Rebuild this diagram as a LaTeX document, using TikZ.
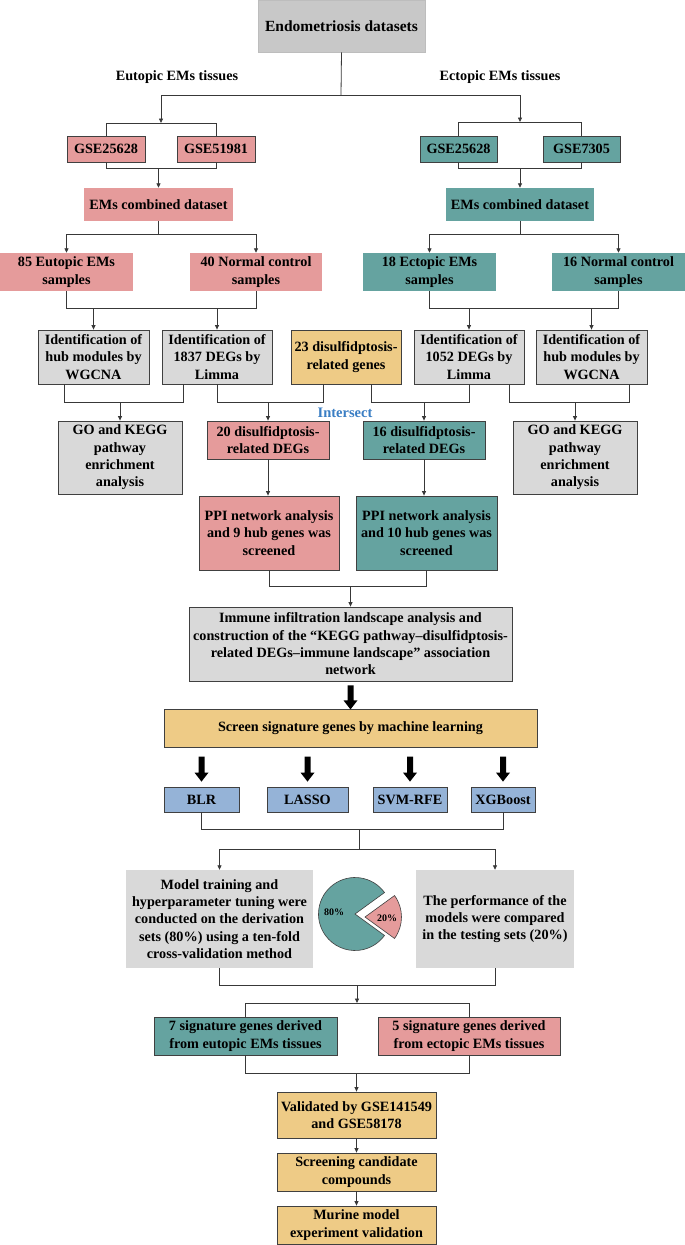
\documentclass[tikz,border=0pt]{standalone}
\usepackage{fontspec}
\setmainfont{Liberation Serif}
\usetikzlibrary{arrows.meta,calc}
\definecolor{pk}{HTML}{E59B9B}
\definecolor{tl}{HTML}{65A3A0}
\definecolor{yl}{HTML}{EECB86}
\definecolor{bl}{HTML}{95B3D7}
\definecolor{gr}{HTML}{D9D9D9}
\definecolor{gtop}{HTML}{C8C8C8}
\definecolor{gtopb}{HTML}{BDBDBD}
\definecolor{edge}{HTML}{404040}
\definecolor{lnc}{HTML}{383838}
\definecolor{isc}{HTML}{3A7EC4}
\newcommand\bx[7]{%
  \pgfmathsetmacro\bxw{#4-#2}\pgfmathsetmacro\bxh{#5-#3}%
  \node[#6, minimum width=\bxw pt, minimum height=\bxh pt] (#1) at ({(#2+#4)/2},{(#3+#5)/2}) {#7};}
\newcommand\tarrow[3]{\fill[black] (#1) ++(0,#2) ++(-3,0) -- ++(6,0) -- ++(0,#3-9) -- ++(4,0) -- ++(-7,9) -- ++(-7,-9) -- ++(4,0) -- cycle;}
\begin{document}
\begin{tikzpicture}[x=1pt,y=-1pt,
  base/.style={inner sep=0pt, align=center, font=\fontsize{14.2}{17.3}\selectfont\bfseries, text=black},
  dk/.style={base, draw=edge, line width=0.8pt},
  lt/.style={base, draw=none},
  conn/.style={draw=lnc, line width=0.8pt},
  arr/.style={conn, -{Triangle[length=4.5pt,width=4pt]}}]
\useasboundingbox (0,0) rectangle (685,1245);
\fill[white] (0,0) rectangle (685,1245);

% top
\bx{top}{258}{0.5}{425}{52}{base, fill=gtop, draw=gtopb, line width=0.6pt, font=\fontsize{15.5}{18}\selectfont\bfseries}{Endometriosis datasets}
\node[base] (eul) at (177,77) {Eutopic EMs tissues};
\node[base] (ecl) at (500,77) {Ectopic EMs tissues};

% datasets
\bx{ga}{67}{136}{145}{162}{dk, fill=pk}{GSE25628}
\bx{gb}{177}{136}{255}{162}{dk, fill=pk}{GSE51981}
\bx{gc}{420}{136}{497}{162}{dk, fill=tl}{GSE25628}
\bx{gd}{543}{136}{620}{162}{dk, fill=tl}{GSE7305}
\bx{ca}{84}{188}{233}{221}{lt, fill=pk}{EMs combined dataset}
\bx{cb}{446}{188}{594}{221}{lt, fill=tl}{EMs combined dataset}

% samples
\bx{sa}{0}{253}{133}{291}{lt, fill=pk}{85 Eutopic EMs\\samples}
\bx{sb}{190}{253}{322}{291}{lt, fill=pk}{40 Normal control\\samples}
\bx{sc}{363}{253}{496}{291}{lt, fill=tl}{18 Ectopic EMs\\samples}
\bx{sd}{552}{253}{685}{291}{lt, fill=tl}{16 Normal control\\samples}

% identification row
\bx{wa}{38}{330}{149}{384}{dk, fill=gr}{Identification of\\hub modules by\\WGCNA}
\bx{da}{162}{330}{272}{384}{dk, fill=gr}{Identification of\\1837 DEGs by\\Limma}
\bx{dg}{291}{330}{401}{384}{dk, fill=yl}{23 disulfidptosis-\\related genes}
\bx{db}{414}{330}{524}{384}{dk, fill=gr}{Identification of\\1052 DEGs by\\Limma}
\bx{wb}{536}{330}{647}{384}{dk, fill=gr}{Identification of\\hub modules by\\WGCNA}

% row 4
\bx{goa}{58}{421}{182}{494}{dk, fill=gr}{GO and KEGG\\pathway\\enrichment\\analysis}
\bx{ia}{207}{421}{329}{459}{dk, fill=pk}{20 disulfidptosis-\\related DEGs}
\bx{ib}{363}{421}{485}{459}{dk, fill=tl}{16 disulfidptosis-\\related DEGs}
\bx{gob}{513}{421}{637}{494}{dk, fill=gr}{GO and KEGG\\pathway\\enrichment\\analysis}
\node[base, text=isc, font=\fontsize{14.5}{17}\selectfont\bfseries] (isect) at (345,413) {Intersect};

% PPI
\bx{pa}{199}{496}{339}{570}{dk, fill=pk}{PPI network analysis\\and 9 hub genes was\\screened}
\bx{pb}{356}{496}{497}{570}{dk, fill=tl}{PPI network analysis\\and 10 hub genes was\\screened}

% immune
\bx{imm}{189}{607}{512}{681}{dk, fill=gr}{Immune infiltration landscape analysis and\\construction of the “KEGG pathway–disulfidptosis-\\related DEGs–immune landscape” association\\network}
\bx{scr}{164}{709}{537}{747}{dk, fill=yl}{Screen signature genes by machine learning}

% methods
\bx{blr}{164}{787}{239}{812}{dk, fill=bl}{BLR}
\bx{las}{267}{787}{348}{812}{dk, fill=bl}{LASSO}
\bx{svm}{373}{787}{447}{812}{dk, fill=bl}{SVM-RFE}
\bx{xgb}{471}{787}{535}{812}{dk, fill=bl}{XGBoost}

% training
\bx{mt}{126}{870}{313}{968}{lt, fill=gr}{Model training and\\hyperparameter tuning were\\conducted on the derivation\\sets (80\%) using a ten-fold\\cross-validation method}
\bx{pf}{416}{870}{574}{968}{lt, fill=gr}{The performance of the\\models were compared\\in the testing sets (20\%)}

% pie
\fill[tl, draw=edge, line width=0.6pt] (355,914) -- ++(-36:36.5) arc[start angle=-36, end angle=-324, radius=36.5] -- cycle;
\fill[pk, draw=edge, line width=0.6pt] (365,917) -- ++(-36:36.5) arc[start angle=-36, end angle=36, radius=36.5] -- cycle;
\node[base, font=\fontsize{10}{12}\selectfont\bfseries] (p80) at (334,912) {80\%};
\node[base, font=\fontsize{10}{12}\selectfont\bfseries] (p20) at (387,918) {20\%};

% signatures
\bx{s7}{154}{1017}{337}{1055}{dk, fill=tl}{7 signature genes derived\\from eutopic EMs tissues}
\bx{s5}{378}{1017}{560}{1055}{dk, fill=pk}{5 signature genes derived\\from ectopic EMs tissues}

% validation
\bx{val}{277}{1092}{436}{1138}{dk, fill=yl}{Validated by GSE141549\\and GSE58178}
\bx{scc}{277}{1153}{436}{1191}{dk, fill=yl}{Screening candidate\\compounds}
\bx{mur}{277}{1206}{436}{1244}{dk, fill=yl}{Murine model\\experiment validation}

% ---------- connectors ----------
\coordinate (t1) at (341,95);
\coordinate (ta) at (161,123);
\coordinate (tb) at (520,122);
\draw[conn] (top.south) -- (t1);
\draw[arr] (t1) -| (ta);
\draw[arr] (t1) -| (tb);
\draw[conn] (ga.north) |- (gb.north |- ta) -- (gb.north);
\draw[conn] (gc.north) |- (gd.north |- tb) -- (gd.north);
\draw[conn] (ga.south) |- (gb.south |- 0,168) -- (gb.south);
\draw[conn] (gc.south) |- (gd.south |- 0,168) -- (gd.south);
\draw[arr] (ca.north |- 0,168) -- (ca.north);
\draw[arr] (cb.north |- 0,168) -- (cb.north);

\draw[conn] (ca.south) -- (ca.south |- 0,234);
\draw[arr] (ca.south |- 0,234) -| (sa.north);
\draw[arr] (ca.south |- 0,234) -| (sb.north);
\draw[conn] (cb.south) -- (cb.south |- 0,234);
\draw[arr] (cb.south |- 0,234) -| (sc.north);
\draw[arr] (cb.south |- 0,234) -| (sd.north);

\draw[conn] (sa.south) |- (sb.south |- 0,308) -- (sb.south);
\draw[conn] (sc.south) |- (sd.south |- 0,308) -- (sd.south);
\draw[arr] (wa.north |- 0,308) -- (wa.north);
\draw[arr] (da.north |- 0,308) -- (da.north);
\draw[arr] (db.north |- 0,308) -- (db.north);
\draw[arr] (wb.north |- 0,308) -- (wb.north);

\draw[conn] (wa.south -| 64,0) -- (64,402) -- (183,402) -- (da.south -| 183,0);
\draw[arr] (goa.north |- 0,402) -- (goa.north);
\draw[conn] (da.south) -- (da.south |- 0,402) -- (323,402) -- (dg.south -| 323,0);
\draw[arr] (ia.north |- 0,402) -- (ia.north);
\draw[conn] (dg.south -| 371,0) -- (371,402) -- (db.south |- 0,402) -- (db.south);
\draw[arr] (ib.north |- 0,402) -- (ib.north);
\draw[conn] (db.south -| 509,0) -- (509,402) -- (629,402) -- (wb.south -| 629,0);
\draw[arr] (gob.north |- 0,402) -- (gob.north);

\draw[arr] (ia.south) -- (ia.south |- pa.north);
\draw[arr] (ib.south) -- (ib.south |- pb.north);
\draw[conn] (pa.south) |- (pb.south |- 0,586) -- (pb.south);
\draw[arr] (imm.north |- 0,586) -- (imm.north);

\tarrow{imm.south}{4}{24}
\tarrow{blr.north}{-30}{25}
\tarrow{las.north}{-30}{25}
\tarrow{svm.north}{-30}{25}
\tarrow{xgb.north}{-30}{25}

\coordinate (mj) at (359,829);
\coordinate (mk) at (359,849);
\draw[conn] (blr.south) |- (xgb.south |- mj) -- (xgb.south);
\draw[conn] (mj) -- (mk);
\draw[arr] (mk) -| (mt.north);
\draw[arr] (mk) -| (pf.north);

\coordinate (sj) at (357,985);
\coordinate (sk) at (357,1003);
\draw[conn] (mt.south) |- (pf.south |- sj) -- (pf.south);
\draw[arr] (sj) -- (sk);
\draw[conn] (sk) -| (s7.north);
\draw[conn] (sk) -| (s5.north);

\draw[conn] (s7.south) |- (s5.south |- 0,1073) -- (s5.south);
\draw[arr] (val.north |- 0,1073) -- (val.north);
\draw[arr] (val.south) -- (scc.north);
\draw[arr] (scc.south) -- (mur.north);
\end{tikzpicture}
\end{document}
